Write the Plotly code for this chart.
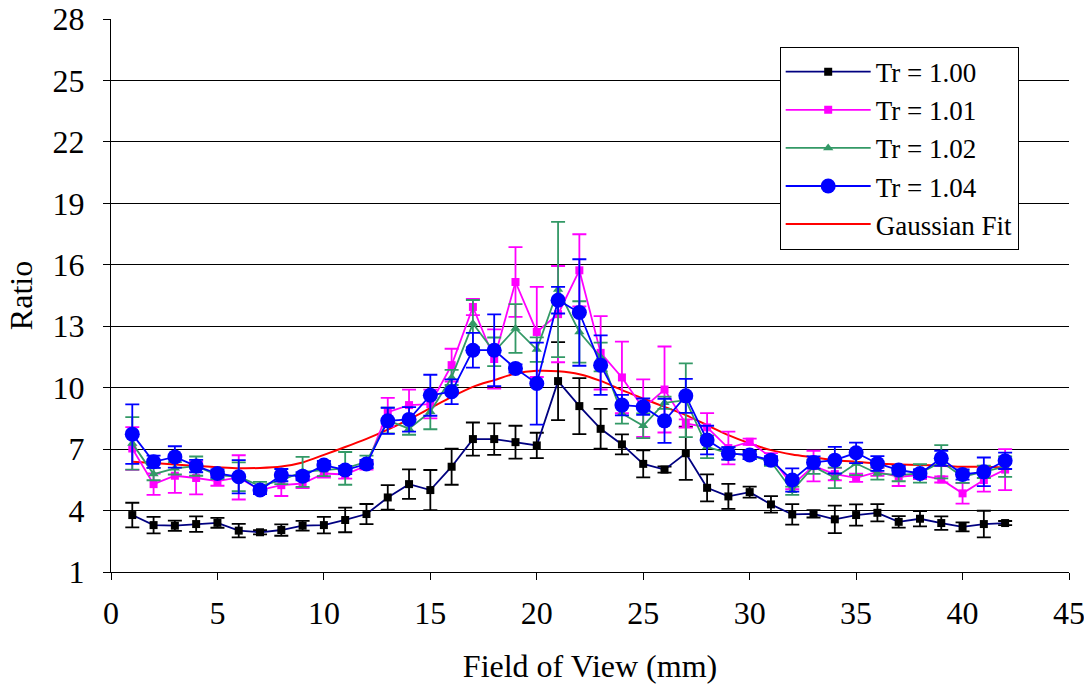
import plotly.graph_objects as go

x = list(range(1, 43))

tr100 = [3.78, 3.29, 3.26, 3.34, 3.40, 3.02, 2.94, 3.05, 3.26, 3.29, 3.54, 3.83, 4.64, 5.29, 5.00, 6.14,
         7.49, 7.49, 7.34, 7.18, 10.32, 9.10, 7.99, 7.23, 6.28, 6.00, 6.80, 5.11, 4.69, 4.90, 4.30, 3.81,
         3.84, 3.57, 3.78, 3.89, 3.45, 3.60, 3.39, 3.20, 3.34, 3.39]
tr100_err = [0.60, 0.40, 0.25, 0.38, 0.24, 0.33, 0.10, 0.28, 0.24, 0.40, 0.60, 0.49, 0.60, 0.72, 0.98, 0.88,
             0.81, 0.77, 0.80, 0.62, 1.90, 1.37, 0.97, 0.49, 0.66, 0.15, 1.30, 0.66, 0.61, 0.27, 0.40, 0.50,
             0.18, 0.67, 0.52, 0.42, 0.28, 0.37, 0.33, 0.22, 0.65, 0.10]

tr101 = [7.03, 5.29, 5.70, 5.59, 5.44, 5.62, 5.00, 5.24, 5.32, 5.81, 5.76, 6.20, 8.80, 9.15, 9.20, 11.10,
         13.94, 11.40, 15.16, 12.72, 13.59, 15.73, 11.70, 10.50, 9.00, 9.91, 8.25, 8.06, 7.05, 7.36, 6.60, 5.24,
         6.17, 5.78, 5.60, 5.89, 5.65, 5.73, 5.52, 4.84, 5.49, 6.00]
tr101_err = [1.04, 0.52, 0.84, 0.80, 0.23, 1.08, 0.15, 0.53, 0.22, 0.20, 0.20, 0.20, 0.70, 0.75, 0.70, 0.80,
             0.40, 1.45, 1.70, 2.20, 2.35, 1.76, 1.79, 1.75, 1.40, 2.10, 0.20, 0.70, 0.80, 0.15, 0.20, 0.20,
             0.75, 0.30, 0.20, 0.20, 0.45, 0.20, 0.15, 0.50, 0.57, 1.00]

tr102 = [7.28, 5.78, 6.06, 6.17, 5.73, 5.65, 5.20, 5.49, 5.89, 5.98, 6.06, 6.38, 8.40, 8.00, 8.82, 10.50,
         13.13, 11.75, 12.89, 11.86, 14.79, 12.72, 11.50, 8.74, 8.14, 9.26, 9.39, 7.11, 6.79, 6.71, 6.38, 4.97,
         6.14, 5.60, 6.30, 5.81, 5.73, 5.81, 6.38, 5.65, 5.89, 6.14]
tr102_err = [1.28, 0.30, 0.30, 0.47, 0.20, 0.70, 0.20, 0.20, 0.73, 0.30, 0.80, 0.30, 0.63, 0.30, 0.85, 0.37,
             1.15, 0.70, 1.19, 0.60, 3.30, 1.50, 0.70, 0.50, 0.60, 0.30, 1.80, 0.55, 0.30, 0.20, 0.20, 0.20,
             0.35, 0.50, 0.57, 0.30, 0.30, 0.45, 0.81, 0.30, 0.30, 0.50]

tr104 = [7.73, 6.38, 6.62, 6.17, 5.81, 5.65, 5.00, 5.73, 5.68, 6.22, 5.98, 6.27, 8.38, 8.45, 9.63, 9.80,
         11.83, 11.83, 10.94, 10.20, 14.27, 13.67, 11.10, 9.15, 9.07, 8.38, 9.60, 7.44, 6.79, 6.71, 6.46, 5.49,
         6.35, 6.46, 6.82, 6.30, 5.98, 5.81, 6.55, 5.76, 5.89, 6.43]
tr104_err = [1.45, 0.30, 0.52, 0.30, 0.20, 0.81, 0.20, 0.30, 0.20, 0.20, 0.20, 0.20, 0.64, 0.60, 1.00, 0.60,
             0.85, 1.75, 0.20, 2.00, 0.65, 2.60, 1.45, 0.50, 0.40, 1.08, 0.83, 0.70, 0.30, 0.20, 0.20, 0.57,
             0.30, 0.65, 0.50, 0.36, 0.20, 0.20, 0.37, 0.25, 0.70, 0.40]

gauss_fit = [6.38, 6.32, 6.25, 6.18, 6.12, 6.07, 6.08, 6.15, 6.35, 6.72, 7.10, 7.50, 7.95, 8.45, 9.00, 9.55,
             10.04, 10.37, 10.69, 10.82, 10.80, 10.66, 10.33, 9.88, 9.47, 9.06, 8.66, 8.17, 7.68, 7.28, 6.95, 6.74,
             6.60, 6.46, 6.38, 6.30, 6.25, 6.22, 6.19, 6.14, 6.14, 6.10]

x_ticks = [0, 5, 10, 15, 20, 25, 30, 35, 40, 45]
y_ticks = [1, 4, 7, 10, 13, 16, 19, 22, 25, 28]

FONT = '"Liberation Serif", "Times New Roman", Times, serif'

fig = go.Figure()

fig.add_trace(go.Scatter(
    x=x, y=gauss_fit, name="Gaussian Fit", mode="lines", legendrank=5,
    line=dict(color="#FF0000", width=2, shape="spline", smoothing=0.8)))


def add_series(y, err, name, lcolor, mcolor, ecolor, symbol, size, rank):
    fig.add_trace(go.Scatter(
        x=x, y=y, name=name, mode="lines+markers", legendrank=rank,
        line=dict(color=lcolor, width=1.8),
        marker=dict(color=mcolor, symbol=symbol, size=size, line=dict(width=0)),
        error_y=dict(type="data", array=err, visible=True, color=ecolor, thickness=1.8, width=7)))


add_series(tr100, tr100_err, "Tr = 1.00", "#000080", "#000000", "#000000", "square", 8, 1)
add_series(tr101, tr101_err, "Tr = 1.01", "#FF00FF", "#FF00FF", "#FF00FF", "square", 8, 2)
add_series(tr102, tr102_err, "Tr = 1.02", "#339966", "#339966", "#339966", "triangle-up", 9, 3)
add_series(tr104, tr104_err, "Tr = 1.04", "#0000FF", "#0000FF", "#0000FF", "circle", 15, 4)

fig.update_layout(
    width=1084, height=692,
    margin=dict(l=111, r=15, t=19, b=120, autoexpand=False),
    paper_bgcolor="white", plot_bgcolor="white",
    font=dict(family=FONT, size=32, color="black"),
    showlegend=True,
    legend=dict(
        x=0.698, y=0.95, xanchor="left", yanchor="top",
        bgcolor="white", bordercolor="black", borderwidth=1,
        font=dict(family=FONT, size=27, color="black"),
        itemwidth=85, tracegroupgap=0, traceorder="normal"),
    xaxis=dict(
        range=[0, 45], tickvals=x_ticks, ticks="outside", ticklen=7, tickcolor="black",
        showline=True, linecolor="black", linewidth=1, showgrid=False, zeroline=False,
        automargin=False, ticklabeloverflow="allow",
        tickfont=dict(family=FONT, size=32), ticklabelstandoff=6,
        title=dict(text="Field of View (mm)", font=dict(family=FONT, size=32), standoff=24)),
    yaxis=dict(
        range=[1, 28], tickvals=y_ticks, ticks="outside", ticklen=7, tickcolor="black",
        showline=True, linecolor="black", linewidth=1, automargin=False, ticklabeloverflow="allow",
        showgrid=True, gridcolor="black", gridwidth=1, zeroline=False,
        tickfont=dict(family=FONT, size=32), ticklabelstandoff=12,
        title=dict(text="Ratio", font=dict(family=FONT, size=32), standoff=10)),
)

fig.write_html("out.html", config={"displayModeBar": False},
               post_script="document.body.style.margin='0';document.body.style.overflow='hidden';")
